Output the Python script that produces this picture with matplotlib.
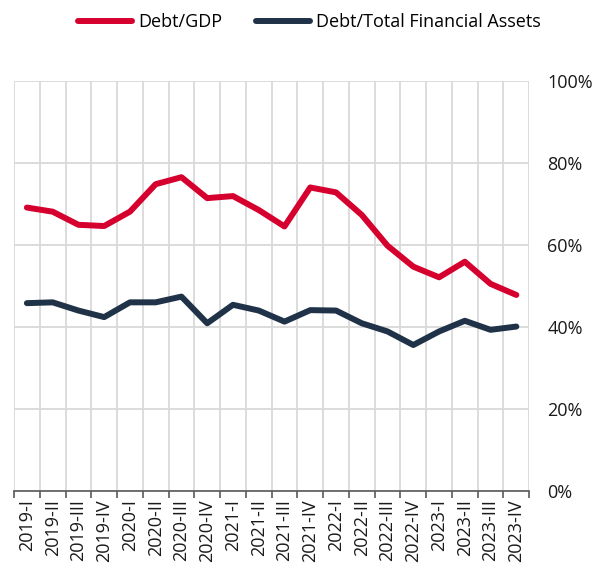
import numpy as np
import matplotlib.pyplot as plt
from matplotlib.ticker import FixedLocator

plt.rcParams['font.family'] = ['Open Sans', 'DejaVu Sans']

# Quarterly ratios, percent
quarters = ["2019-I", "2019-II", "2019-III", "2019-IV",
            "2020-I", "2020-II", "2020-III", "2020-IV",
            "2021-I", "2021-II", "2021-III", "2021-IV",
            "2022-I", "2022-II", "2022-III", "2022-IV",
            "2023-I", "2023-II", "2023-III", "2023-IV"]
debt_gdp = [69.1, 68.1, 64.9, 64.6, 68.1, 74.8, 76.5, 71.4, 71.9, 68.5,
            64.5, 74.0, 72.8, 67.3, 59.8, 54.7, 52.1, 55.9, 50.5, 47.8]
debt_tfa = [45.8, 46.0, 44.0, 42.4, 46.0, 46.0, 47.4, 40.9, 45.4, 44.0,
            41.3, 44.1, 44.0, 40.9, 38.9, 35.6, 38.9, 41.5, 39.3, 40.1]

red = "#D6002F"
navy = "#1F3247"
grid_c = "#D9D9D9"
fs = 13

fig = plt.figure(figsize=(6.09, 5.73), dpi=100)
ax = fig.add_axes([0.023, 0.143, 0.846, 0.716])

x = np.arange(len(quarters))
ax.plot(x, debt_gdp, color=red, lw=4.3, solid_capstyle='round',
        solid_joinstyle='round', label="Debt/GDP", zorder=3)
ax.plot(x, debt_tfa, color=navy, lw=4.3, solid_capstyle='round',
        solid_joinstyle='round', label="Debt/Total Financial Assets", zorder=3)

ax.set_xlim(-0.5, len(quarters) - 0.5)
ax.set_ylim(0, 100)

# category labels at centres, ticks and vertical grid at boundaries
ax.set_xticks(x)
ax.set_xticklabels(quarters, rotation=90, fontsize=fs, color="#1a1a1a")
ax.tick_params(axis='x', which='major', length=0, pad=6)
ax.xaxis.set_minor_locator(FixedLocator(np.arange(-0.5, len(quarters), 1.0)))
ax.tick_params(axis='x', which='minor', length=5, width=1.2, color="#595959",
               direction='out')
ax.grid(axis='x', which='minor', color=grid_c, lw=1.3, zorder=0)

ax.set_yticks(np.arange(0, 101, 20))
ax.set_yticklabels([f"{v}%" for v in range(0, 101, 20)], fontsize=fs,
                   color="#1a1a1a")
ax.yaxis.tick_right()
ax.tick_params(axis='y', length=0, pad=13)
ax.grid(axis='y', color=grid_c, lw=1.3, zorder=0)

for s in ['top', 'left', 'right']:
    ax.spines[s].set_visible(False)
ax.spines['bottom'].set_color("#595959")
ax.spines['bottom'].set_linewidth(1.2)
ax.spines['bottom'].set_zorder(4)

fig.legend(loc='upper center', bbox_to_anchor=(0.508, 1.005), ncol=2,
           frameon=False, fontsize=fs, handlelength=3.0, handletextpad=0.3,
           columnspacing=1.9)

fig.savefig("out.png", dpi=100)
